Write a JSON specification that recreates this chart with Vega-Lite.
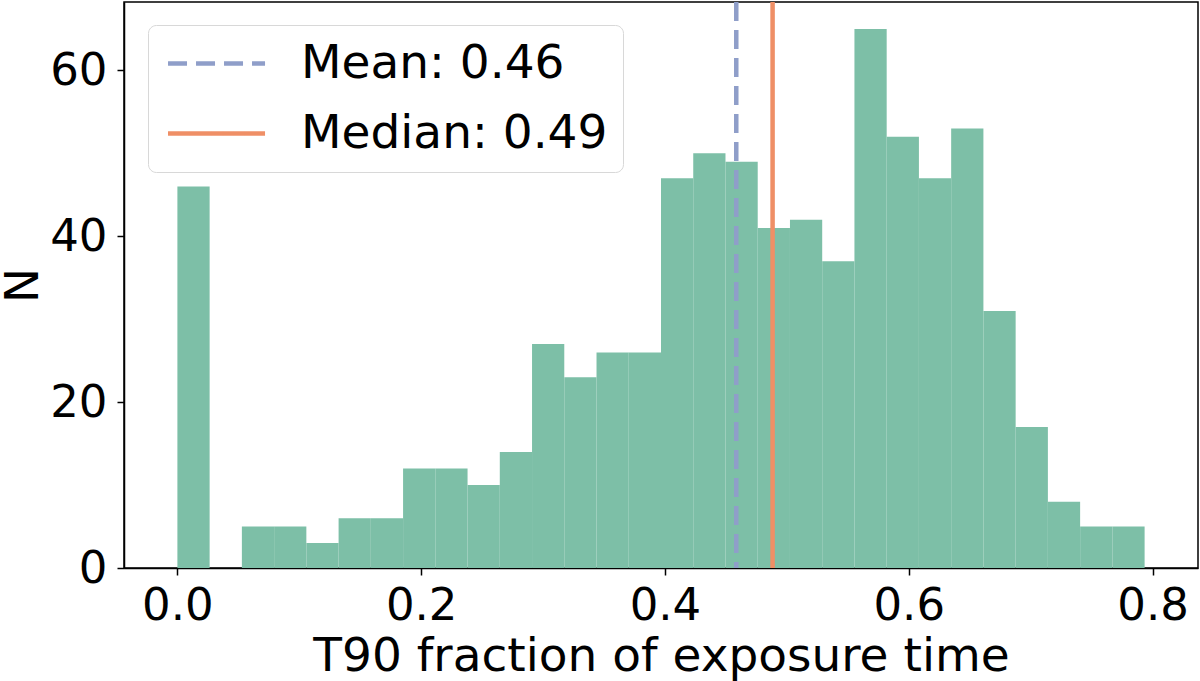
{
  "$schema": "https://vega.github.io/schema/vega-lite/v6.json",
  "width": 1074,
  "height": 566,
  "autosize": "none",
  "padding": {"left": 124, "top": 2, "right": 2, "bottom": 113},
  "background": "white",
  "datasets": {
    "hist": [
      {"bin_start": 0.0, "bin_end": 0.02645, "count": 46},
      {"bin_start": 0.0529, "bin_end": 0.07935, "count": 5},
      {"bin_start": 0.07935, "bin_end": 0.1058, "count": 5},
      {"bin_start": 0.1058, "bin_end": 0.13225, "count": 3},
      {"bin_start": 0.13225, "bin_end": 0.1587, "count": 6},
      {"bin_start": 0.1587, "bin_end": 0.18515, "count": 6},
      {"bin_start": 0.18515, "bin_end": 0.2116, "count": 12},
      {"bin_start": 0.2116, "bin_end": 0.23805, "count": 12},
      {"bin_start": 0.23805, "bin_end": 0.2645, "count": 10},
      {"bin_start": 0.2645, "bin_end": 0.29095, "count": 14},
      {"bin_start": 0.29095, "bin_end": 0.3174, "count": 27},
      {"bin_start": 0.3174, "bin_end": 0.34385, "count": 23},
      {"bin_start": 0.34385, "bin_end": 0.3703, "count": 26},
      {"bin_start": 0.3703, "bin_end": 0.39675, "count": 26},
      {"bin_start": 0.39675, "bin_end": 0.4232, "count": 47},
      {"bin_start": 0.4232, "bin_end": 0.44965, "count": 50},
      {"bin_start": 0.44965, "bin_end": 0.4761, "count": 49},
      {"bin_start": 0.4761, "bin_end": 0.50255, "count": 41},
      {"bin_start": 0.50255, "bin_end": 0.529, "count": 42},
      {"bin_start": 0.529, "bin_end": 0.55545, "count": 37},
      {"bin_start": 0.55545, "bin_end": 0.5819, "count": 65},
      {"bin_start": 0.5819, "bin_end": 0.60835, "count": 52},
      {"bin_start": 0.60835, "bin_end": 0.6348, "count": 47},
      {"bin_start": 0.6348, "bin_end": 0.66125, "count": 53},
      {"bin_start": 0.66125, "bin_end": 0.6877, "count": 31},
      {"bin_start": 0.6877, "bin_end": 0.71415, "count": 17},
      {"bin_start": 0.71415, "bin_end": 0.7406, "count": 8},
      {"bin_start": 0.7406, "bin_end": 0.76705, "count": 5},
      {"bin_start": 0.76705, "bin_end": 0.7935, "count": 5}
    ],
    "stats": [
      {"label": "Mean: 0.46", "value": 0.4585},
      {"label": "Median: 0.49", "value": 0.4883}
    ]
  },
  "config": {
    "font": "DejaVu Sans",
    "view": {"stroke": "black", "strokeWidth": 1.5},
    "axis": {
      "grid": false,
      "domainColor": "black",
      "domainWidth": 1.5,
      "tickColor": "black",
      "tickWidth": 1.5,
      "tickSize": 7,
      "labelFont": "DejaVu Sans",
      "labelFontSize": 45,
      "labelColor": "black",
      "titleFont": "DejaVu Sans",
      "titleFontSize": 47,
      "titleFontWeight": "normal",
      "titleColor": "black",
      "labelOverlap": false,
      "labelFlush": false
    },
    "legend": {
      "orient": "none",
      "legendX": 24,
      "legendY": 23,
      "padding": 15,
      "fillColor": "rgba(255,255,255,0.8)",
      "strokeColor": "#d8d8d8",
      "cornerRadius": 8,
      "labelFont": "DejaVu Sans",
      "labelFontSize": 47,
      "labelColor": "black",
      "labelLimit": 0,
      "symbolType": "M-1.12,0H4.76",
      "symbolSize": 1089,
      "symbolStrokeWidth": 4.5,
      "symbolFillColor": "transparent",
      "labelOffset": 91,
      "rowPadding": 22
    }
  },
  "layer": [
    {
      "data": {"name": "hist"},
      "mark": {"type": "bar", "orient": "vertical", "color": "#7dbfa7"},
      "encoding": {
        "x": {
          "field": "bin_start",
          "type": "quantitative",
          "scale": {"domain": [-0.0397, 0.8332], "nice": false, "zero": false},
          "axis": {"values": [0, 0.2, 0.4, 0.6, 0.8], "format": ".1f", "labelPadding": 8, "titlePadding": 5},
          "title": "T90 fraction of exposure time"
        },
        "x2": {"field": "bin_end"},
        "y": {
          "field": "count",
          "type": "quantitative",
          "scale": {"domain": [0, 68.25], "nice": false},
          "axis": {"values": [0, 20, 40, 60], "labelPadding": 10, "titlePadding": 2},
          "title": "N"
        },
        "y2": {"datum": 0}
      }
    },
    {
      "data": {"name": "stats"},
      "mark": {"type": "rule", "strokeWidth": 4.5},
      "encoding": {
        "x": {"field": "value", "type": "quantitative"},
        "color": {
          "field": "label",
          "type": "nominal",
          "scale": {"domain": ["Mean: 0.46", "Median: 0.49"], "range": ["#8f9ec9", "#ef8f66"]},
          "legend": {"title": null}
        },
        "strokeDash": {
          "field": "label",
          "type": "nominal",
          "scale": {"domain": ["Mean: 0.46", "Median: 0.49"], "range": [[19, 9], [1, 0]]},
          "legend": {"title": null}
        }
      }
    }
  ]
}
